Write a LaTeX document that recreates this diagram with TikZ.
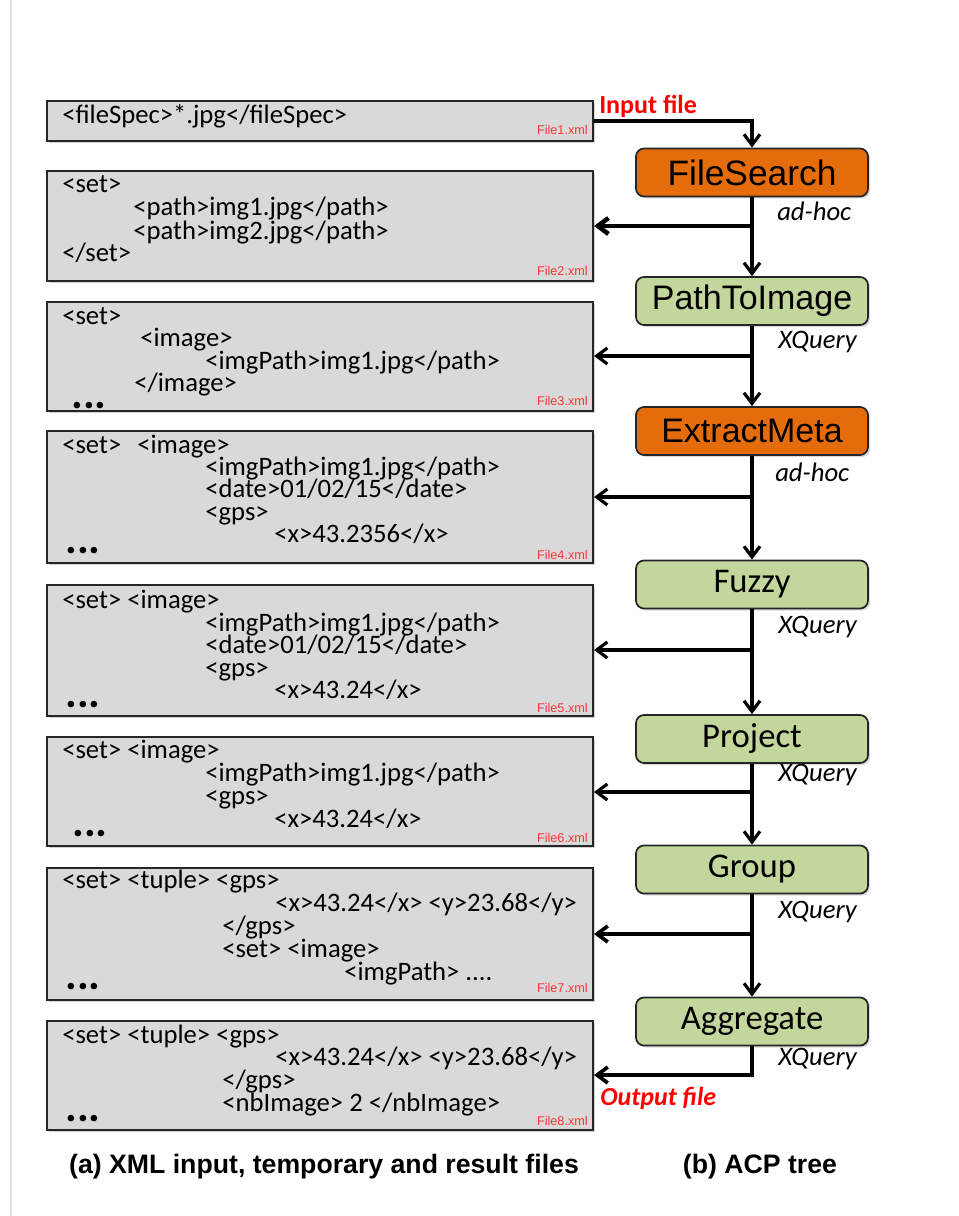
\documentclass[tikz,border=0pt]{standalone}
\usepackage{fontspec}
\setmainfont{Carlito}
\newfontfamily\arialfont{Liberation Sans}
\usetikzlibrary{arrows.meta,shadows,fit}

\definecolor{boxgray}{HTML}{D9D9D9}
\definecolor{oporange}{HTML}{E46C0A}
\definecolor{opgreen}{HTML}{C3D69B}
\definecolor{filered}{HTML}{FF3333}

\newcommand{\xmlfont}{\fontsize{20}{23}\selectfont}

\tikzset{
  xmlbox/.style={draw=black!85, line width=1.5pt, fill=boxgray, inner sep=0pt,
    drop shadow={shadow xshift=1.2pt, shadow yshift=-1.2pt, opacity=.35}},
  xmlline/.style={anchor=west, inner sep=0pt, font=\xmlfont, text height=0.66em, text depth=0.06em},
  xmldots/.style={anchor=base west, inner sep=0pt, font=\bfseries\fontsize{33}{33}\selectfont},
  filelbl/.style={anchor=base east, inner sep=0pt, text=filered, font=\arialfont\fontsize{9.5}{10}\selectfont},
  opbox/.style={draw=black!85, line width=1.3pt, rounded corners=6pt, minimum width=174pt, minimum height=36pt,
    inner sep=0pt, drop shadow={shadow xshift=1.5pt, shadow yshift=-1.5pt, opacity=.3}},
  adhoc/.style={opbox, fill=oporange, font=\arialfont\fontsize{25.5}{25.5}\selectfont},
  xquery/.style={opbox, fill=opgreen, font=\fontsize{26}{26}\selectfont},
  impl/.style={anchor=west, inner sep=0pt, font=\itshape\fontsize{20}{20}\selectfont},
  conn/.style={line width=2.4pt, -{Straight Barb[length=8pt,width=12pt]}},
  iolbl/.style={inner sep=0pt, text=red, font=\bfseries\fontsize{19.5}{19.5}\selectfont},
  caption/.style={inner sep=0pt, font=\arialfont\bfseries\fontsize{20}{20}\selectfont}
}

\begin{document}
\begin{tikzpicture}[x=0.75pt,y=-0.75pt]
\useasboundingbox (0,0) rectangle (958,1216);
\draw[black!12, line width=1.5pt] (11,0) -- (11,1216);

% XML files
\node[xmlbox, fit={(47,101) (593,141)}] (f1) {};
\node[xmlbox, fit={(47,171) (593,281)}] (f2) {};
\node[xmlbox, fit={(47,302) (593,411)}] (f3) {};
\node[xmlbox, fit={(47,431) (593,563)}] (f4) {};
\node[xmlbox, fit={(47,585) (593,716)}] (f5) {};
\node[xmlbox, fit={(47,737) (593,846)}] (f6) {};
\node[xmlbox, fit={(47,868) (593,1000)}] (f7) {};
\node[xmlbox, fit={(47,1021) (593,1130)}] (f8) {};

\node[xmlline] (t1a) at (62,120) {<fileSpec>*.jpg</fileSpec>};
\node[filelbl] (n1) at (588,135) {File1.xml};

\node[xmlline] (t2a) at (62,189) {<set>};
\node[xmlline] (t2b) at (133,212) {<path>img1.jpg</path>};
\node[xmlline] (t2c) at (133,235) {<path>img2.jpg</path>};
\node[xmlline] (t2d) at (62,258) {</set>};
\node[filelbl] (n2) at (588,276) {File2.xml};

\node[xmlline] (t3a) at (62,320) {<set>};
\node[xmlline] (t3b) at (140,342) {<image>};
\node[xmlline] (t3c) at (205,365) {<imgPath>img1.jpg</path>};
\node[xmlline] (t3d) at (134,387) {</image>};
\node[xmldots] (d3) at (71,408) {...};
\node[filelbl] (n3) at (588,405) {File3.xml};

\node[xmlline] (t4a) at (62,449) {<set>\hspace{0.6em}<image>};
\node[xmlline] (t4b) at (205,471) {<imgPath>img1.jpg</path>};
\node[xmlline] (t4c) at (205,493) {<date>01/02/15</date>};
\node[xmlline] (t4d) at (205,516) {<gps>};
\node[xmlline] (t4e) at (274,538) {<x>43.2356</x>};
\node[xmldots] (d4) at (65,553) {...};
\node[filelbl] (n4) at (588,559) {File4.xml};

\node[xmlline] (t5a) at (62,604) {<set> <image>};
\node[xmlline] (t5b) at (205,627) {<imgPath>img1.jpg</path>};
\node[xmlline] (t5c) at (205,649) {<date>01/02/15</date>};
\node[xmlline] (t5d) at (205,672) {<gps>};
\node[xmlline] (t5e) at (274,694) {<x>43.24</x>};
\node[xmldots] (d5) at (65,707) {...};
\node[filelbl] (n5) at (588,712) {File5.xml};

\node[xmlline] (t6a) at (62,754) {<set> <image>};
\node[xmlline] (t6b) at (205,777) {<imgPath>img1.jpg</path>};
\node[xmlline] (t6c) at (205,800) {<gps>};
\node[xmlline] (t6d) at (274,823) {<x>43.24</x>};
\node[xmldots] (d6) at (72,836) {...};
\node[filelbl] (n6) at (588,842) {File6.xml};

\node[xmlline] (t7a) at (62,884) {<set> <tuple> <gps>};
\node[xmlline] (t7b) at (275,907) {<x>43.24</x> <y>23.68</y>};
\node[xmlline] (t7c) at (222,930) {</gps>};
\node[xmlline] (t7d) at (222,953) {<set> <image>};
\node[xmlline] (t7e) at (344,976) {<imgPath> ....};
\node[xmldots] (d7) at (65,989) {...};
\node[filelbl] (n7) at (588,992) {File7.xml};

\node[xmlline] (t8a) at (62,1039) {<set> <tuple> <gps>};
\node[xmlline] (t8b) at (275,1061) {<x>43.24</x> <y>23.68</y>};
\node[xmlline] (t8c) at (222,1084) {</gps>};
\node[xmlline] (t8d) at (222,1107) {<nbImage> 2 </nbImage>};
\node[xmldots] (d8) at (65,1121) {...};
\node[filelbl] (n8) at (588,1125) {File8.xml};

% ACP tree
\node[adhoc, font=\arialfont\fontsize{26.5}{26.5}\selectfont] (fs) at (752,172.5) {FileSearch};
\node[xquery, font=\arialfont\fontsize{25.5}{25.5}\selectfont] (pti) at (752,301) {PathToImage};
\node[adhoc] (em) at (752,431) {ExtractMeta};
\node[xquery] (fz) at (752,584.5) {Fuzzy};
\node[xquery] (pj) at (752,739) {Project};
\node[xquery] (gp) at (752,869.5) {Group};
\node[xquery] (ag) at (752,1021.5) {Aggregate};

\node[impl] (i1) at (777,211) {ad-hoc};
\node[impl] (i2) at (778,342) {XQuery};
\node[impl] (i3) at (775,472) {ad-hoc};
\node[impl] (i4) at (778,627) {XQuery};
\node[impl] (i5) at (778,775) {XQuery};
\node[impl] (i6) at (778,912) {XQuery};
\node[impl] (i7) at (778,1059) {XQuery};

\coordinate (inbend) at (752,121);
\coordinate (outbend) at (752,1075);
\draw[conn] (f1.east) -- (inbend) -- (fs.north);
\draw[conn] (fs) -- (pti);
\draw[conn] (pti) -- (em);
\draw[conn] (em) -- (fz);
\draw[conn] (fz) -- (pj);
\draw[conn] (pj) -- (gp);
\draw[conn] (gp) -- (ag);
\draw[conn, line width=2.8pt] (ag.south) -- (outbend) -- (outbend -| f8.east);
\foreach \yy/\fl/\lw [count=\i] in {226/f2/3.4,356/f3/2.4,497/f4/2.4,650/f5/2.4,792/f6/2.4,934/f7/2.8}{
  \coordinate (br\i) at (752,\yy);
  \draw[conn, line width=\lw pt] (br\i) -- (br\i -| \fl.east);
}

\node[iolbl, anchor=west] (inlbl) at (599,106) {Input file};
\node[iolbl, anchor=west, font=\bfseries\itshape\fontsize{19.5}{19.5}\selectfont] (outlbl) at (600,1098) {Output file};

\node[caption] (capa) at (324,1167) {(a) XML input, temporary and result files};
\node[caption] (capb) at (760,1167) {(b) ACP tree};
\end{tikzpicture}
\end{document}
